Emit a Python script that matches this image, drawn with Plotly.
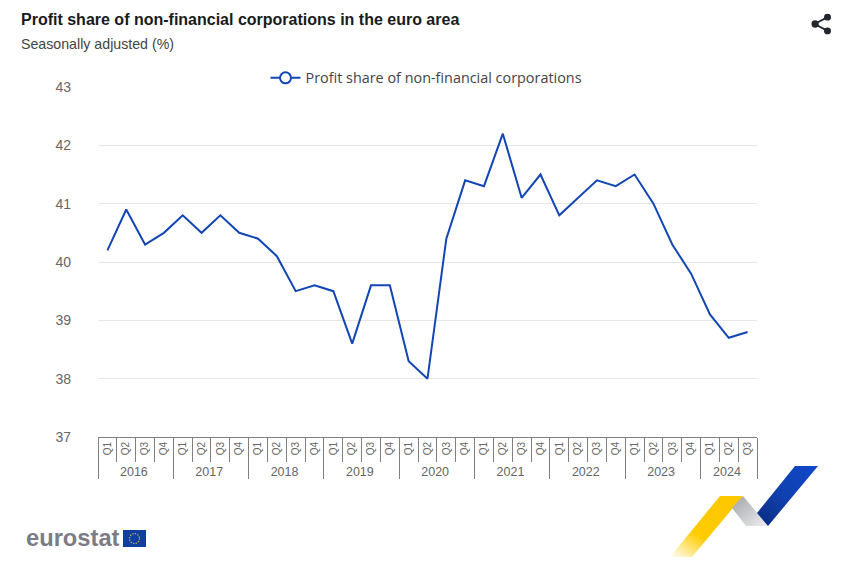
import base64
import plotly.graph_objects as go

years = ["2016"]*4 + ["2017"]*4 + ["2018"]*4 + ["2019"]*4 + ["2020"]*4 + ["2021"]*4 + ["2022"]*4 + ["2023"]*4 + ["2024"]*3
quarters = ["Q1","Q2","Q3","Q4"]*8 + ["Q1","Q2","Q3"]
profit_share = [40.2,40.9,40.3,40.5, 40.8,40.5,40.8,40.5, 40.4,40.1,39.5,39.6, 39.5,38.6,39.6,39.6,
                38.3,38.0,40.4,41.4, 41.3,42.2,41.1,41.5, 40.8,41.1,41.4,41.3, 41.5,41.0,40.3,39.8,
                39.1,38.7,38.8]
y_ticks = [37,38,39,40,41,42,43]
series_name = "Profit share of non-financial corporations"
BLUE = "#1246b4"
W, H = 847, 562
PW, PH = 659, 350

def uri(svg):
    return "data:image/svg+xml;base64," + base64.b64encode(svg.encode()).decode()

ribbon = '''<svg xmlns="http://www.w3.org/2000/svg" width="160" height="100" viewBox="0 0 160 100">
<defs>
<linearGradient id="y" x1="0" y1="1" x2="0.6" y2="0.25"><stop offset="0" stop-color="#ffcc00" stop-opacity="0"/><stop offset="0.55" stop-color="#ffcc00"/><stop offset="1" stop-color="#fdc800"/></linearGradient>
<linearGradient id="g" x1="0" y1="0" x2="1" y2="1"><stop offset="0" stop-color="#a0a2a6"/><stop offset="1" stop-color="#f0f0f2"/></linearGradient>
<linearGradient id="b" x1="0" y1="1" x2="1" y2="0"><stop offset="0" stop-color="#0a2a80"/><stop offset="0.45" stop-color="#1040ac"/><stop offset="1" stop-color="#1048cc"/></linearGradient>
</defs>
<polygon points="4,92 54,31 77,31 26,92" fill="url(#y)"/>
<polygon points="77,31 66,43 80,61 102,61" fill="url(#g)"/>
<polygon points="91,48 129,1 152,1 102,61" fill="url(#b)"/>
</svg>'''

flag = '''<svg xmlns="http://www.w3.org/2000/svg" width="46" height="34" viewBox="0 0 46 34">
<rect width="46" height="34" fill="#0f3f9f"/>
<circle cx="23" cy="17" r="10" fill="none" stroke="#d9c64a" stroke-width="2.4" stroke-dasharray="2.4 2.8"/>
</svg>'''

share = '''<svg xmlns="http://www.w3.org/2000/svg" width="24" height="24" viewBox="0 0 24 24">
<path d="M4 12 L18 4.5 M4 12 L18 19.5" stroke="#23272f" stroke-width="2"/>
<circle cx="4.5" cy="12" r="4" fill="#23272f"/><circle cx="18" cy="4.5" r="3.8" fill="#23272f"/><circle cx="18" cy="19.5" r="3.8" fill="#23272f"/>
</svg>'''

year_labels = [f'<span style="font-size:12.5px">{y}</span>' for y in years]
x = [year_labels, quarters]
fig = go.Figure()
fig.add_trace(go.Scatter(x=x, y=profit_share, mode="lines", name=series_name,
                         line=dict(color=BLUE, width=2), showlegend=False))
fig.add_trace(go.Scatter(x=x, y=[None]*len(quarters), mode="lines+markers", name=series_name,
                         line=dict(color=BLUE, width=2),
                         marker=dict(size=11, color="white", line=dict(color=BLUE, width=2)),
                         showlegend=True))

fig.update_layout(
    width=W, height=H, autosize=False,
    margin=dict(l=98, r=90, t=87, b=125),
    paper_bgcolor="white", plot_bgcolor="white",
    font=dict(family="Liberation Sans, Arial, sans-serif", color="#666666", size=12),
    title=dict(text="<b>Profit share of non-financial corporations in the euro area</b>",
               x=21/W, xanchor="left", xref="container", y=1-19/H, yanchor="middle",
               font=dict(size=16, color="#1a1a1a", family="Liberation Sans, Arial, sans-serif")),
    legend=dict(orientation="h", x=0.4985, xanchor="center", xref="paper", y=1+9/PH, yanchor="middle", yref="paper",
                font=dict(family="Open Sans, sans-serif", size=14.4, color="#444444"),
                itemwidth=30, bgcolor="rgba(0,0,0,0)"),
    showlegend=True,
    xaxis=dict(type="multicategory", range=[-0.5, 34.5], showline=True, linecolor="#808080", linewidth=1,
               ticks="outside", ticklen=24, tickcolor="#808080", tickwidth=1,
               tickangle=-90, tickfont=dict(size=10, color="#666666"),
               showdividers=True, dividercolor="#808080", dividerwidth=1,
               showgrid=False, zeroline=False, fixedrange=True),
    yaxis=dict(range=[37, 43], tickmode="array", tickvals=y_ticks, ticktext=[str(v) for v in y_ticks],
               showgrid=True, gridcolor="#e6e6e6", gridwidth=1, zeroline=False, showline=False,
               ticks="", ticklabelstandoff=26, tickfont=dict(size=14, color="#666666"), fixedrange=True),
    annotations=[
        dict(text="Seasonally adjusted (%)", xref="paper", yref="paper", x=-79/PW, y=1+43/PH,
             xanchor="left", yanchor="middle", showarrow=False, font=dict(size=14.2, color="#444444")),
        dict(text="<b>eurostat</b>", xref="paper", yref="paper", x=-74/PW, y=-(538-437)/PH,
             xanchor="left", yanchor="middle", showarrow=False,
             font=dict(size=23.7, color="#7a7d85", family="Liberation Sans, Arial, sans-serif")),
    ],
    images=[
        dict(source=uri(ribbon), xref="paper", yref="paper", x=(666-98)/PW, y=-(465-437)/PH, sizex=160/PW, sizey=100/PH,
             xanchor="left", yanchor="top", sizing="stretch", layer="above"),
        dict(source=uri(flag), xref="paper", yref="paper", x=(123-98)/PW, y=-(530-437)/PH, sizex=23/PW, sizey=17/PH,
             xanchor="left", yanchor="top", sizing="stretch", layer="above"),
        dict(source=uri(share), xref="paper", yref="paper", x=(811-98)/PW, y=(437-13)/PH, sizex=22/PW, sizey=22/PH,
             xanchor="left", yanchor="top", sizing="stretch", layer="above"),
    ],
)
fig.write_html("out.html", config=dict(displayModeBar=False),
               post_script="document.body.style.margin='0';")
